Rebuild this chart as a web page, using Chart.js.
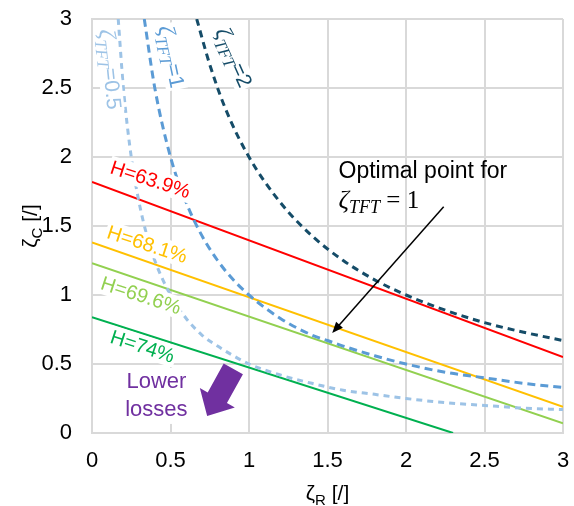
<!DOCTYPE html>
<html>
<head>
<meta charset="utf-8">
<script src="https://cdn.jsdelivr.net/npm/chart.js@4"></script>
<style>body{margin:0;background:#fff}</style>
</head>
<body>
<canvas id="chart" width="574" height="506"></canvas>
<script>
// dashed iso-curves, zeta_TFT = 0.5 / 1 / 2
const tft05_x = [0.167, 0.2, 0.25, 0.3, 0.35, 0.4, 0.5, 0.6, 0.7, 0.8, 0.9, 1.0, 1.2, 1.4, 1.6, 1.8, 2.0, 2.25, 2.5, 2.75, 3.0];
const tft05_y = [3.0, 2.5, 2.0, 1.67, 1.43, 1.25, 1.0, 0.83, 0.71, 0.63, 0.56, 0.5, 0.42, 0.36, 0.31, 0.28, 0.25, 0.22, 0.2, 0.18, 0.17];
const tft1_x = [0.333, 0.4, 0.5, 0.6, 0.7, 0.8, 0.9, 1.0, 1.2, 1.4, 1.5, 1.6, 1.8, 2.0, 2.25, 2.5, 2.75, 3.0];
const tft1_y = [3.0, 2.5, 2.0, 1.67, 1.43, 1.25, 1.11, 1.0, 0.83, 0.71, 0.67, 0.63, 0.56, 0.5, 0.44, 0.4, 0.36, 0.33];
const tft2_x = [0.667, 0.75, 0.85, 1.0, 1.2, 1.4, 1.6, 1.8, 2.0, 2.25, 2.5, 2.75, 3.0];
const tft2_y = [3.0, 2.67, 2.35, 2.0, 1.67, 1.43, 1.25, 1.11, 1.0, 0.89, 0.8, 0.73, 0.67];

// straight iso-efficiency lines, end points
const h639_x = [0, 3], h639_y = [1.82, 0.55];
const h681_x = [0, 3], h681_y = [1.38, 0.19];
const h696_x = [0, 3], h696_y = [1.23, 0.07];
const h74_x = [0, 2.3], h74_y = [0.84, 0];

const xTicks = [0, 0.5, 1, 1.5, 2, 2.5, 3];
const yTicks = [0, 0.5, 1, 1.5, 2, 2.5, 3];

const pts = (xs, ys) => xs.map((x, i) => ({x: x, y: ys[i]}));

const SANS = "'Liberation Sans', Arial, sans-serif";
const SERIF = "'Liberation Serif', 'DejaVu Serif', serif";

function curve(label, xs, ys, color, dash) {
    return {label: label, data: pts(xs, ys), borderColor: color, borderWidth: 3,
        borderDash: dash, pointRadius: 0, fill: false, showLine: true,
        cubicInterpolationMode: 'monotone', order: 0};
}
function line(label, xs, ys, color) {
    return {label: label, data: pts(xs, ys), borderColor: color, borderWidth: 2,
        pointRadius: 0, fill: false, showLine: true, order: 1};
}

// draws pieces of text one after another along a (possibly rotated) baseline
function drawRich(ctx, parts, x, y, angle, color, bg) {
    ctx.save();
    ctx.translate(x, y);
    ctx.rotate(angle * Math.PI / 180);
    ctx.textBaseline = 'alphabetic';
    ctx.textAlign = 'left';
    let w = 0;
    parts.forEach(p => { ctx.font = p.font; w += ctx.measureText(p.text).width; });
    if (bg) {
        ctx.fillStyle = '#fff';
        ctx.fillRect(-2, -bg, w + 4, bg * 1.3);
    }
    ctx.fillStyle = color;
    let cx = 0;
    parts.forEach(p => {
        ctx.font = p.font;
        ctx.fillText(p.text, cx, p.dy || 0);
        cx += ctx.measureText(p.text).width;
    });
    ctx.restore();
}

function zetaParts(sub, rest, size) {
    return [
        {text: 'ζ', font: 'italic ' + (size + 3) + 'px ' + SERIF},
        {text: sub, font: 'italic ' + Math.round(size * 0.8) + 'px ' + SERIF, dy: size * 0.25},
        {text: rest, font: size + 'px ' + SANS}
    ];
}

const annotations = {
    id: 'annotations',
    afterDatasetsDraw(chart) {
        const ctx = chart.ctx, xs = chart.scales.x, ys = chart.scales.y;
        const px = v => xs.getPixelForValue(v), py = v => ys.getPixelForValue(v);

        // H labels along the lines
        const hLabels = [
            ['H=63.9%', '#ff0000', 0.37, 1.83],
            ['H=68.1%', '#ffc000', 0.35, 1.36],
            ['H=69.6%', '#92d050', 0.31, 0.99],
            ['H=74%', '#00b050', 0.32, 0.62]
        ];
        hLabels.forEach(l => {
            ctx.save();
            ctx.font = '20px ' + SANS;
            const w = ctx.measureText(l[0]).width;
            ctx.translate(px(l[2]), py(l[3]));
            ctx.rotate(18 * Math.PI / 180);
            ctx.fillStyle = '#fff';
            ctx.fillRect(-w / 2 - 2, -12, w + 4, 22);
            ctx.fillStyle = l[1];
            ctx.textAlign = 'center';
            ctx.textBaseline = 'middle';
            ctx.fillText(l[0], 0, 0);
            ctx.restore();
        });

        // curve labels
        drawRich(ctx, zetaParts('TFT', '=0.5', 21), px(0.045), py(2.92), 84, '#9dc3e6', 17);
        drawRich(ctx, zetaParts('TFT', '=1', 21), px(0.42), py(2.94), 78, '#5b9bd5', 17);
        drawRich(ctx, zetaParts('TFT', '=2', 21), px(0.78), py(2.91), 66, '#154c68', 17);

        // "Lower losses" with block arrow
        ctx.save();
        ctx.fillStyle = '#fff';
        ctx.fillRect(px(0.41) - 36, py(0.37) - 14, 72, 56);
        ctx.fillStyle = '#7030a0';
        ctx.font = '22px ' + SANS;
        ctx.textAlign = 'center';
        ctx.textBaseline = 'middle';
        ctx.fillText('Lower', px(0.41), py(0.37));
        ctx.fillText('losses', px(0.41), py(0.17));
        const sx = px(0.9), sy = py(0.465);
        const ux = -0.484, uy = 0.875, nx = 0.875, ny = 0.484;
        const P = (a, b) => [sx + ux * a + nx * b, sy + uy * a + ny * b];
        const poly = [P(0, -11), P(0, 11), P(33, 11), P(33, 20), P(54, 0), P(33, -20), P(33, -11)];
        ctx.beginPath();
        poly.forEach((p, i) => i ? ctx.lineTo(p[0], p[1]) : ctx.moveTo(p[0], p[1]));
        ctx.closePath();
        ctx.fill();
        ctx.restore();

        // optimal point note
        ctx.save();
        ctx.fillStyle = '#000';
        ctx.font = '23px ' + SANS;
        ctx.textBaseline = 'alphabetic';
        ctx.fillText('Optimal point for', px(1.57), py(1.85));
        ctx.restore();
        drawRich(ctx, [
            {text: 'ζ', font: 'italic 26px ' + SERIF},
            {text: 'TFT', font: 'italic 18px ' + SERIF, dy: 5},
            {text: ' = 1', font: '25px ' + SERIF}
        ], px(1.57), py(1.63), 0, '#000', 0);

        const ax0 = px(2.24), ay0 = py(1.64), ax1 = px(1.53), ay1 = py(0.725);
        const ang = Math.atan2(ay1 - ay0, ax1 - ax0);
        ctx.save();
        ctx.strokeStyle = '#000';
        ctx.fillStyle = '#000';
        ctx.lineWidth = 1.5;
        ctx.beginPath();
        ctx.moveTo(ax0, ay0);
        ctx.lineTo(ax1 - Math.cos(ang) * 8, ay1 - Math.sin(ang) * 8);
        ctx.stroke();
        ctx.translate(ax1, ay1);
        ctx.rotate(ang);
        ctx.beginPath();
        ctx.moveTo(0, 0);
        ctx.lineTo(-11, -4.5);
        ctx.lineTo(-11, 4.5);
        ctx.closePath();
        ctx.fill();
        ctx.restore();
    },
    afterDraw(chart) {
        const ctx = chart.ctx, a = chart.chartArea;
        // axis titles with subscripts
        const xParts = [
            {text: 'ζ', font: '21px ' + SANS},
            {text: 'R', font: '15px ' + SANS, dy: 5},
            {text: ' [/]', font: '21px ' + SANS}
        ];
        ctx.save();
        let w = 0;
        xParts.forEach(p => { ctx.font = p.font; w += ctx.measureText(p.text).width; });
        ctx.restore();
        drawRich(ctx, xParts, (a.left + a.right) / 2 - w / 2, 500, 0, '#000', 0);
        const yParts = [
            {text: 'ζ', font: '21px ' + SANS},
            {text: 'C', font: '15px ' + SANS, dy: 5},
            {text: ' [/]', font: '21px ' + SANS}
        ];
        drawRich(ctx, yParts, 37, (a.top + a.bottom) / 2 + w / 2, -90, '#000', 0);
    }
};

const noPad = s => { s.paddingTop = 0; s.paddingBottom = 0; s.paddingLeft = 0; s.paddingRight = 0; };

new Chart(document.getElementById('chart').getContext('2d'), {
    type: 'scatter',
    data: {
        datasets: [
            curve('ζTFT=0.5', tft05_x, tft05_y, '#9dc3e6', [6, 5]),
            curve('ζTFT=1', tft1_x, tft1_y, '#5b9bd5', [8, 5]),
            curve('ζTFT=2', tft2_x, tft2_y, '#154c68', [7, 5]),
            line('H=63.9%', h639_x, h639_y, '#ff0000'),
            line('H=68.1%', h681_x, h681_y, '#ffc000'),
            line('H=69.6%', h696_x, h696_y, '#92d050'),
            line('H=74%', h74_x, h74_y, '#00b050')
        ]
    },
    options: {
        responsive: false,
        animation: false,
        layout: {padding: {top: 19, right: 11, left: 0, bottom: 0}},
        plugins: {legend: {display: false}, tooltip: {enabled: false}},
        scales: {
            x: {
                type: 'linear', min: 0, max: 3,
                afterBuildTicks: s => { s.ticks = xTicks.map(v => ({value: v})); },
                afterFit: s => { s.height = 73; noPad(s); },
                grid: {color: '#d9d9d9', lineWidth: 2, drawTicks: false},
                border: {color: '#d9d9d9', width: 2},
                ticks: {color: '#000', padding: 15, font: {family: SANS, size: 22}, maxRotation: 0,
                    callback: v => String(v)}
            },
            y: {
                type: 'linear', min: 0, max: 3,
                afterBuildTicks: s => { s.ticks = yTicks.map(v => ({value: v})); },
                afterFit: s => { s.width = 92; noPad(s); },
                grid: {color: '#d9d9d9', lineWidth: 2, drawTicks: false},
                border: {color: '#d9d9d9', width: 2},
                ticks: {color: '#000', padding: 20, font: {family: SANS, size: 22},
                    callback: v => String(v)}
            }
        }
    },
    plugins: [annotations]
});
</script>
</body>
</html>
